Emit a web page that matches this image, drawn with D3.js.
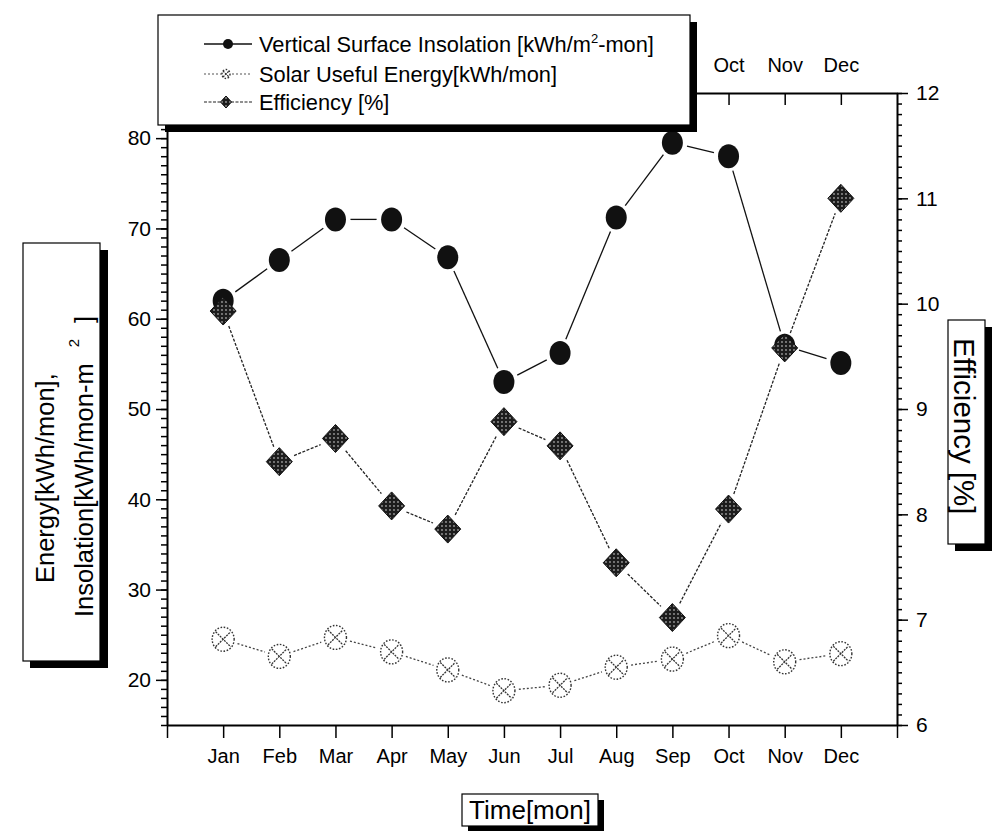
<!DOCTYPE html>
<html><head><meta charset="utf-8">
<script src="https://cdn.jsdelivr.net/npm/d3@7"></script>
<style>
body{margin:0;background:#fff;}
svg{display:block;font-family:"Liberation Sans",Arial,sans-serif;}
</style></head><body>
<svg id="c" width="1000" height="831"></svg>
<script>
const months = ["Jan","Feb","Mar","Apr","May","Jun","Jul","Aug","Sep","Oct","Nov","Dec"];
const topVisibleMonths = ["Oct","Nov","Dec"];
const insolation = [62.0, 66.5, 71.0, 71.0, 66.8, 53.0, 56.2, 71.2, 79.5, 78.0, 57.0, 55.1];
const solarEnergy = [24.5, 22.6, 24.7, 23.1, 21.1, 18.8, 19.4, 21.4, 22.3, 24.9, 22.0, 22.9];
const efficiency = [9.93, 8.50, 8.72, 8.08, 7.86, 8.88, 8.65, 7.54, 7.02, 8.05, 9.58, 11.00];
const leftTicks = [20, 30, 40, 50, 60, 70, 80];
const rightTicks = [6, 7, 8, 9, 10, 11, 12];
const legendLabels = ["Vertical Surface Insolation [kWh/m", "Solar Useful Energy[kWh/mon]", "Efficiency [%]"];

const svg = d3.select("#c");
const x = d3.scaleLinear().domain([0, 13]).range([167, 897]);
const yL = d3.scaleLinear().domain([15, 85]).range([725, 93]);
const yR = d3.scaleLinear().domain([6, 12]).range([725, 93]);

const defs = svg.append("defs");
const pat = defs.append("pattern").attr("id", "ht").attr("patternUnits", "userSpaceOnUse")
  .attr("width", 4).attr("height", 4);
pat.append("rect").attr("width", 4).attr("height", 4).attr("fill", "#1c1c1c");
pat.append("circle").attr("cx", 2).attr("cy", 2).attr("r", 0.9).attr("fill", "#9a9a9a");

function styleAxis(g, fs) {
  g.attr("font-size", fs).attr("font-family", '"Liberation Sans",Arial,sans-serif');
  g.selectAll("line").attr("stroke", "#000").attr("stroke-width", 1.5);
  g.selectAll("path.domain").attr("stroke", "#000").attr("stroke-width", 2);
  g.selectAll("text").attr("fill", "#000");
}

const gb = svg.append("g").attr("transform", "translate(0,725)")
  .call(d3.axisBottom(x).tickValues(d3.range(0, 14)).tickSize(13).tickSizeOuter(0).tickPadding(11)
    .tickFormat(d => months[d - 1] || ""));
styleAxis(gb, 20);
const gt = svg.append("g").attr("transform", "translate(0,93)")
  .call(d3.axisTop(x).tickValues(d3.range(1, 13)).tickSize(-12).tickSizeOuter(0).tickPadding(21)
    .tickFormat(d => topVisibleMonths.includes(months[d - 1]) ? months[d - 1] : ""));
styleAxis(gt, 20);
const glm = svg.append("g").attr("transform", "translate(167,0)")
  .call(d3.axisLeft(yL).tickValues(d3.range(15, 86)).tickSize(6).tickSizeOuter(0).tickFormat(""));
styleAxis(glm, 21);
glm.select("path.domain").remove();
const gl = svg.append("g").attr("transform", "translate(167,0)")
  .call(d3.axisLeft(yL).tickValues(leftTicks).tickSize(11).tickSizeOuter(0).tickPadding(5).tickFormat(d3.format("d")));
styleAxis(gl, 21);
const grm = svg.append("g").attr("transform", "translate(897,0)")
  .call(d3.axisRight(yR).tickValues(d3.range(60, 121).map(v => v / 10)).tickSize(5).tickSizeOuter(0).tickFormat(""));
styleAxis(grm, 21);
grm.select("path.domain").remove();
const gr = svg.append("g").attr("transform", "translate(897,0)")
  .call(d3.axisRight(yR).tickValues(rightTicks).tickSize(11).tickSizeOuter(0).tickPadding(8).tickFormat(d3.format("d")));
styleAxis(gr, 21);

function segs(vals, ys, gap) {
  const pts = vals.map((v, i) => [x(i + 1), ys(v)]);
  const out = [];
  for (let i = 0; i < pts.length - 1; i++) {
    const [x1, y1] = pts[i], [x2, y2] = pts[i + 1];
    const dx = x2 - x1, dy = y2 - y1, L = Math.hypot(dx, dy);
    if (L <= 2 * gap) continue;
    const ux = dx / L, uy = dy / L;
    out.push([x1 + ux * gap, y1 + uy * gap, x2 - ux * gap, y2 - uy * gap]);
  }
  return out;
}
const gLines = svg.append("g");
gLines.selectAll("line.ins").data(segs(insolation, yL, 15)).join("line")
  .attr("x1", d => d[0]).attr("y1", d => d[1]).attr("x2", d => d[2]).attr("y2", d => d[3])
  .attr("stroke", "#111").attr("stroke-width", 1.3);
gLines.selectAll("line.sol").data(segs(solarEnergy, yL, 15)).join("line")
  .attr("x1", d => d[0]).attr("y1", d => d[1]).attr("x2", d => d[2]).attr("y2", d => d[3])
  .attr("stroke", "#444").attr("stroke-width", 1.3).attr("stroke-dasharray", "2,2");
gLines.selectAll("line.eff").data(segs(efficiency, yR, 16)).join("line")
  .attr("x1", d => d[0]).attr("y1", d => d[1]).attr("x2", d => d[2]).attr("y2", d => d[3])
  .attr("stroke", "#222").attr("stroke-width", 1.3).attr("stroke-dasharray", "3,1.5");

function solarMarker(g, cx, cy, rx, ry, a) {
  g.append("ellipse").attr("cx", cx).attr("cy", cy).attr("rx", rx).attr("ry", ry)
    .attr("fill", "#fff").attr("stroke", "#333").attr("stroke-width", 1.4).attr("stroke-dasharray", "1.6,1.6");
  g.append("line").attr("x1", cx - a).attr("y1", cy - a).attr("x2", cx + a).attr("y2", cy + a)
    .attr("stroke", "#333").attr("stroke-width", 1.3).attr("stroke-dasharray", "2,1");
  g.append("line").attr("x1", cx - a).attr("y1", cy + a).attr("x2", cx + a).attr("y2", cy - a)
    .attr("stroke", "#333").attr("stroke-width", 1.3).attr("stroke-dasharray", "2,1");
}
function diamond(cx, cy, w, h) {
  return `M${cx},${cy - h}L${cx + w},${cy}L${cx},${cy + h}L${cx - w},${cy}Z`;
}
const gm = svg.append("g");
gm.selectAll("ellipse.ins").data(insolation).join("ellipse")
  .attr("cx", (d, i) => x(i + 1)).attr("cy", d => yL(d)).attr("rx", 10.5).attr("ry", 12)
  .attr("fill", "#111");
const gs = svg.append("g");
solarEnergy.forEach((d, i) => solarMarker(gs, x(i + 1), yL(d), 11, 12, 7.5));
const ge = svg.append("g");
ge.selectAll("path.eff").data(efficiency).join("path")
  .attr("d", (d, i) => diamond(x(i + 1), yR(d), 13, 14))
  .attr("fill", "url(#ht)").attr("stroke", "#111").attr("stroke-width", 1);

const lg = svg.append("g");
lg.append("rect").attr("x", 165).attr("y", 22).attr("width", 532).attr("height", 110).attr("fill", "#000");
lg.append("rect").attr("x", 158).attr("y", 15).attr("width", 532).attr("height", 110)
  .attr("fill", "#fff").attr("stroke", "#000").attr("stroke-width", 1.2);
const rows = [44, 74, 102];
lg.append("line").attr("x1", 204).attr("x2", 252).attr("y1", rows[0]).attr("y2", rows[0]).attr("stroke", "#111").attr("stroke-width", 1.3);
lg.append("circle").attr("cx", 228).attr("cy", rows[0]).attr("r", 5).attr("fill", "#111");
lg.append("line").attr("x1", 204).attr("x2", 252).attr("y1", rows[1]).attr("y2", rows[1]).attr("stroke", "#555").attr("stroke-width", 1.2).attr("stroke-dasharray", "2,2");
solarMarker(lg, 226, rows[1], 4, 4.5, 3);
lg.append("line").attr("x1", 204).attr("x2", 252).attr("y1", rows[2]).attr("y2", rows[2]).attr("stroke", "#222").attr("stroke-width", 1.2).attr("stroke-dasharray", "3,1.5");
lg.append("path").attr("d", diamond(226, rows[2], 5.5, 6)).attr("fill", "url(#ht)").attr("stroke", "#111");
const t1 = lg.append("text").attr("x", 259).attr("y", rows[0] + 7.5).attr("font-size", 21.8);
t1.append("tspan").text(legendLabels[0]);
t1.append("tspan").attr("dy", -9).attr("font-size", 13).text("2");
t1.append("tspan").attr("dy", 9).text("-mon]");
lg.append("text").attr("x", 259).attr("y", rows[1] + 7.5).attr("font-size", 21.8).text(legendLabels[1]);
lg.append("text").attr("x", 259).attr("y", rows[2] + 7.5).attr("font-size", 21.8).text(legendLabels[2]);

const lt = svg.append("g");
lt.append("rect").attr("x", 30).attr("y", 250).attr("width", 78).attr("height", 418).attr("fill", "#000");
lt.append("rect").attr("x", 23).attr("y", 243).attr("width", 77).attr("height", 418)
  .attr("fill", "#fff").attr("stroke", "#000").attr("stroke-width", 1.2);
lt.append("text").attr("transform", "translate(54,583) rotate(-90)").attr("font-size", 25.5)
  .text("Energy[kWh/mon],");
const lt2 = lt.append("text").attr("transform", "translate(93,617) rotate(-90)").attr("font-size", 25.5);
lt2.append("tspan").text("Insolation[kWh/mon-m");
lt2.append("tspan").attr("dx", 16).attr("dy", -14).attr("font-size", 15).text("2");
lt2.append("tspan").attr("dx", 16).attr("dy", 14).text("]");

const rt = svg.append("g");
rt.append("rect").attr("x", 955).attr("y", 327).attr("width", 37).attr("height", 224).attr("fill", "#000");
rt.append("rect").attr("x", 948).attr("y", 320).attr("width", 37).attr("height", 224)
  .attr("fill", "#fff").attr("stroke", "#000").attr("stroke-width", 1.2);
rt.append("text").attr("transform", "translate(954,338) rotate(90)").attr("font-size", 29.5)
  .text("Efficiency [%]");

const xt = svg.append("g");
xt.append("rect").attr("x", 468).attr("y", 800).attr("width", 136).attr("height", 32).attr("fill", "#000");
xt.append("rect").attr("x", 462).attr("y", 794).attr("width", 136).attr("height", 32)
  .attr("fill", "#fff").attr("stroke", "#000").attr("stroke-width", 1.2);
xt.append("text").attr("x", 530).attr("y", 819).attr("text-anchor", "middle").attr("font-size", 26)
  .text("Time[mon]");
</script>
</body></html>
